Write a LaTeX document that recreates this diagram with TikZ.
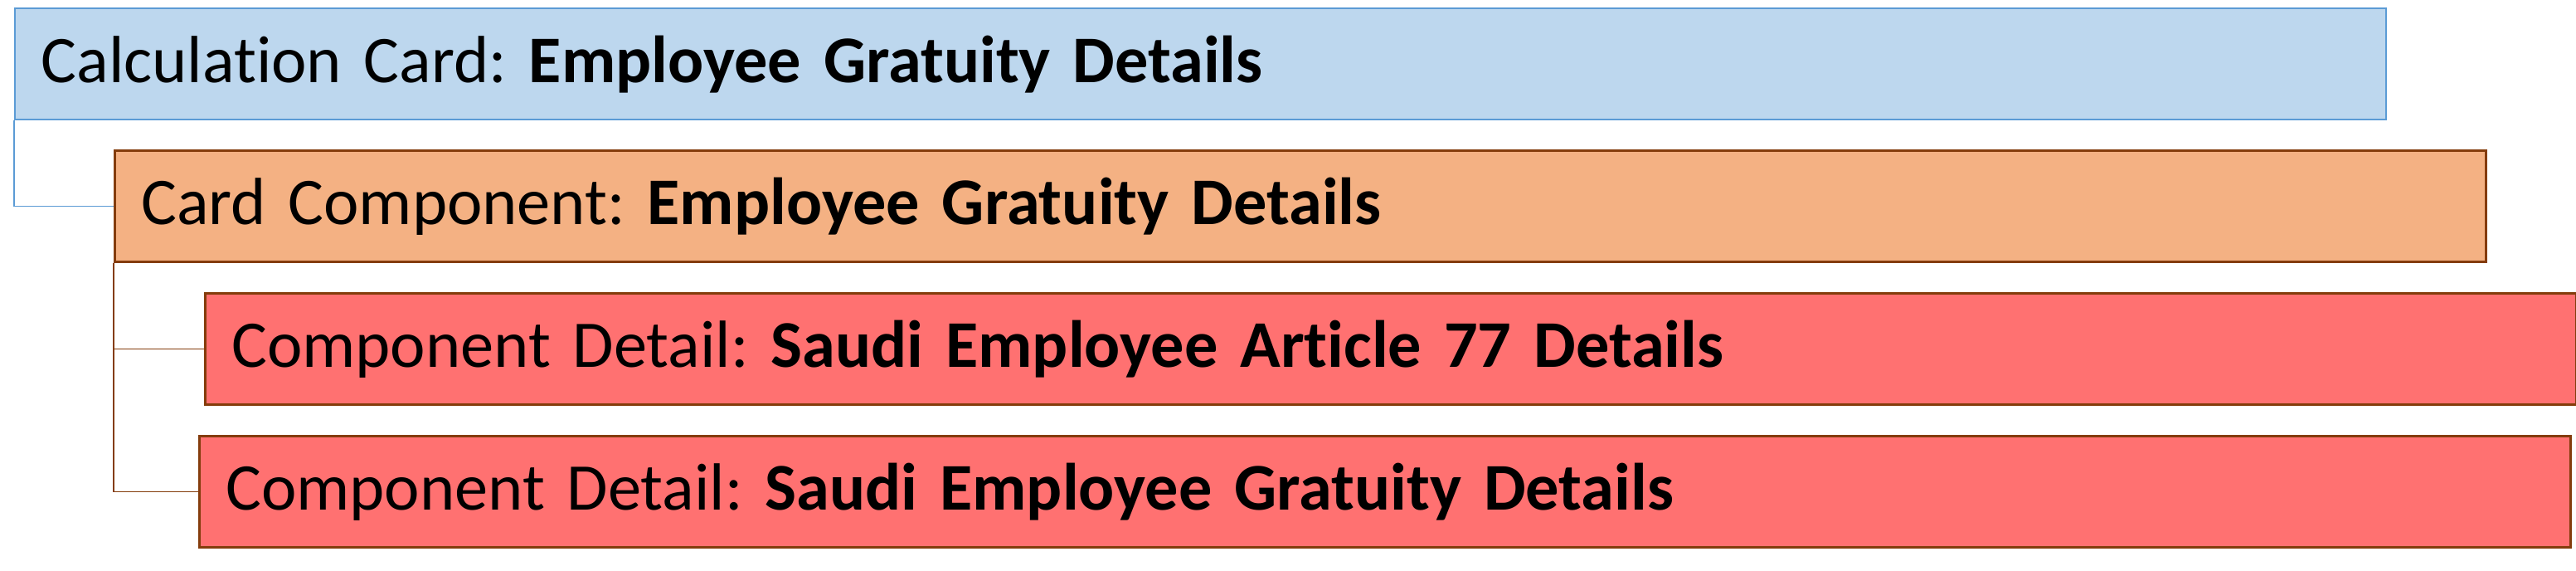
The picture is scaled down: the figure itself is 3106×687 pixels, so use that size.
\documentclass[tikz,border=0pt]{standalone}
\usepackage{fontspec}
\setmainfont{Carlito}[Ligatures=CommonOff]
\usepackage{tikz}
\usetikzlibrary{positioning}
\definecolor{calcfill}{HTML}{BDD7EE}
\definecolor{calcline}{HTML}{5B9BD5}
\definecolor{compfill}{HTML}{F4B183}
\definecolor{compline}{HTML}{843C0C}
\definecolor{detfill}{HTML}{FF7171}
\tikzset{%
    card/.style={%
        rectangle,
        anchor=north west,
        minimum width=714.75pt,
        minimum height=33.6pt,
        inner xsep=8pt,
        text width=698.75pt,
        align=left,
        font=\fontsize{20.1pt}{24pt}\selectfont\frenchspacing,
    },
    calccard/.style={%
        card,
        fill=calcfill,
        draw=calcline, line width=0.5pt,
    },
    cardcomp/.style={%
        card,
        fill=compfill,
        draw=compline, line width=0.65pt,
    },
    compdetail/.style={%
        card,
        fill=detfill,
        draw=compline, line width=0.65pt,
    },
    link/.style={%
        line width=0.45pt,
    },
}
\begin{document}
\begin{tikzpicture}[x=0.25pt, y=-0.25pt]
	\useasboundingbox (0, 0) rectangle (3106, 687);

	\coordinate (calc_corner) at (17, 9);
	\coordinate (comp_corner) at (137, 180);
	\coordinate (det1_corner) at (246, 352);
	\coordinate (det2_corner) at (239, 524);

	\node [calccard,] at (calc_corner) (calc) {Calculation Card: \textbf{Employee Gratuity Details}};
	\node [cardcomp,] at (comp_corner) (comp) {Card Component: \textbf{Employee Gratuity Details}};
	\node [compdetail,] at (det1_corner) (det1) {Component Detail: \textbf{Saudi Employee Article 77 Details}};
	\node [compdetail,] at (det2_corner) (det2) {Component Detail: \textbf{Saudi Employee Gratuity Details}};

	\draw[link, calcline] (calc.south west) |- (comp.west);
	\draw[link, compline] (comp.south west) |- (det1.west);
	\draw[link, compline] (comp.south west) |- (det2.west);
\end{tikzpicture}
\end{document}
